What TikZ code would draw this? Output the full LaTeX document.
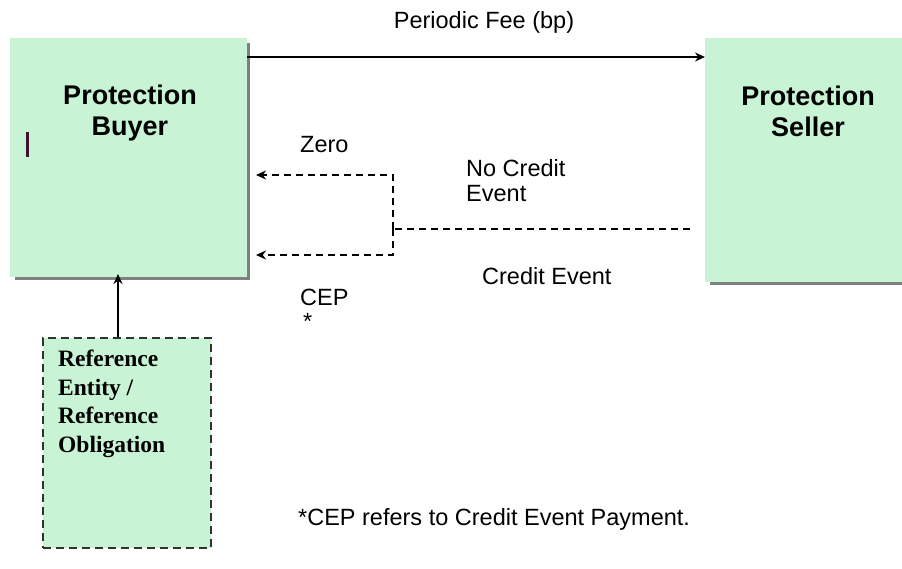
\documentclass[tikz,border=0pt]{standalone}
\usepackage{fontspec}
\setmainfont{Liberation Sans}
\newfontfamily\refserif{Liberation Serif}
\usetikzlibrary{arrows.meta,calc}
\definecolor{boxgreen}{RGB}{200,243,212}
\definecolor{shadowgray}{RGB}{128,128,128}
\definecolor{cursorcol}{RGB}{60,20,50}
\definecolor{dashgray}{RGB}{50,50,50}
\begin{document}
\begin{tikzpicture}[x=1pt,y=-1pt,
  greenbox/.style={fill=boxgreen, draw=none, inner sep=0pt, outer sep=0pt, anchor=north west},
  shadowline/.style={draw=shadowgray, line width=3pt},
  titletext/.style={font=\bfseries\fontsize{27}{31}\selectfont, align=center, inner sep=0pt},
  plaintext/.style={font=\fontsize{23.5}{25}\selectfont, inner sep=0pt, anchor=west},
  solidarrow/.style={draw=black, line width=1.4pt, -{Stealth[length=10pt,width=9pt]}},
  dashline/.style={draw=black, line width=1.4pt, dash pattern=on 7pt off 5pt},
  dasharrow/.style={dashline, -{Stealth[length=10pt,width=9pt]}},
  refbox/.style={fill=boxgreen, draw=dashgray, line width=1.8pt, dash pattern=on 8pt off 5pt, inner sep=0pt, anchor=north west}
]
\useasboundingbox (0,0) rectangle (902,568);

% boxes
\node[greenbox, minimum width=237pt, minimum height=239pt] (buyer) at (10,38) {};
\draw[shadowline] ($(buyer.north east)+(1.5,5)$) -- ($(buyer.south east)+(1.5,1.5)$) -- ($(buyer.south west)+(5,1.5)$);
\node[greenbox, minimum width=197pt, minimum height=244pt] (seller) at (705,38) {};
\draw[shadowline] ($(seller.south west)+(5,1.5)$) -- ($(seller.south east)+(0,1.5)$);
\node[refbox, minimum width=168pt, minimum height=210pt] (ref) at (42,337) {};

% labels in boxes
\node[titletext] (buyerlbl) at (130,113) {Protection\\Buyer};
\node[titletext] (sellerlbl) at (808,111) {Protection\\Seller};
\node[font=\refserif\bfseries\fontsize{23.5}{28.5}\selectfont, align=left, inner sep=0pt, anchor=north west] (reflbl) at (58,350) {Reference\\Entity /\\Reference\\Obligation};
\draw[draw=cursorcol, line width=3pt] (27,132) -- (27,157);

% top arrow
\draw[solidarrow] (buyer.east |- 0,57) -- (seller.west |- 0,57);
\node[plaintext, anchor=center] (fee) at (484,22) {Periodic Fee (bp)};

% dashed structure
\coordinate (split) at (393,229);
\coordinate (nce) at (690,229);
\draw[dashline] (nce) -- (split);
\draw[dasharrow] (split) |- ($(buyer.north east)+(9,137)$);
\draw[dasharrow] (split) |- ($(buyer.north east)+(9,217)$);

% reference arrow
\draw[solidarrow, shorten >=-3pt] (ref.north -| 118,0) -- (buyer.south -| 118,0);

% texts
\node[plaintext] (zero) at (300,145) {Zero};
\node[plaintext, align=left, font=\fontsize{23.5}{25}\selectfont] (ncelbl) at (466,181) {No Credit\\Event};
\node[plaintext] (celbl) at (482,276) {Credit Event};
\node[plaintext] (cep) at (300,297) {CEP};
\node[plaintext] (star) at (303,321) {*};
\node[plaintext] (foot) at (298,519) {*CEP refers to Credit Event Payment.};
\end{tikzpicture}
\end{document}
